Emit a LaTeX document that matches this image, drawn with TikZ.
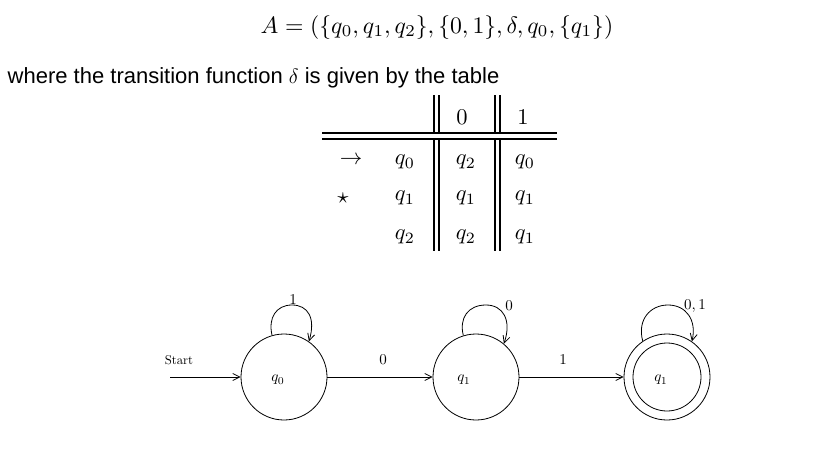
\documentclass[tikz,border=0pt]{standalone}
\usepackage{fontspec}
\newfontfamily\arialfont{Liberation Sans}
\usetikzlibrary{arrows.meta}
\begin{document}
\begin{tikzpicture}[x=1pt,y=-1pt,
  st/.style={circle,draw,line width=0.8pt,minimum size=86pt,inner sep=0pt},
  arr/.style={line width=0.8pt,-{Straight Barb[length=7pt,width=7pt]}},
  tline/.style={line width=1.7pt},
  cell/.style={inner sep=0pt,scale=2.25},
  lab/.style={inner sep=0pt,scale=1.5}]
\useasboundingbox (0,0) rectangle (817,453);
% formula
\node[inner sep=0pt,scale=2.37] (formula) at (437,27.5)
  {$A=(\{q_0,q_1,q_2\},\{0,1\},\delta,q_0,\{q_1\})$};
\node[inner sep=0pt,anchor=base west,font=\arialfont\fontsize{22}{26}\selectfont] (text) at (7.5,83)
  {where the transition function $\delta$ is given by the table};
% table
\node[cell] (h0) at (462,117) {$0$};
\node[cell] (h1) at (523,117) {$1$};
\node[cell] (ar) at (351,160) {$\rightarrow$};
\node[cell] (sr) at (343,198) {$\star$};
\node[cell] (a0) at (405,162) {$q_0$};
\node[cell] (a1) at (405,198) {$q_1$};
\node[cell] (a2) at (405,237) {$q_2$};
\node[cell] (b0) at (466,162) {$q_2$};
\node[cell] (b1) at (466,198) {$q_1$};
\node[cell] (b2) at (466,237) {$q_2$};
\node[cell] (c0) at (525,162) {$q_0$};
\node[cell] (c1) at (525,198) {$q_1$};
\node[cell] (c2) at (525,237) {$q_1$};
\draw[tline] (322,133) -- (557,133) (322,139) -- (557,139);
\foreach \x in {434,439,495,500}{
  \draw[tline] (\x,95) -- (\x,133) (\x,139) -- (\x,251);
}
% automaton
\node[st] (q0) at (284,377) {};
\node[st] (q1) at (476,377) {};
\node[st] (q2) at (667,377) {};
\draw[line width=0.8pt] (q2.center) circle (34);
\node[lab] (l0) at (278,380) {$q_0$};
\node[lab] (l1) at (464,380) {$q_1$};
\node[lab] (l2) at (661,380) {$q_1$};
\node[inner sep=0pt,scale=1.27] (start) at (179,360) {Start};
\coordinate (s0) at (170,377);
\draw[arr] (s0) -- (q0);
\draw[arr] (q0) -- (q1);
\draw[arr] (q1) -- (q2);
\node[lab] (e01) at (383,360) {$0$};
\node[lab] (e12) at (563,360) {$1$};
\draw[arr] (q0.106) .. controls (268,318) and (276,305) .. (292,305)
  .. controls (308,305) and (316,318) .. (q0.55);
\draw[arr] (q1.107) .. controls (459,318) and (468,305) .. (486,305)
  .. controls (503,305) and (512,320) .. (q1.50);
\draw[arr] (q2.124) .. controls (637,320) and (650,305) .. (668,305)
  .. controls (686,305) and (697,320) .. (q2.55);
\node[lab] (k0) at (293,299.5) {$1$};
\node[lab] (k1) at (509,306) {$0$};
\node[lab] (k2) at (695,306) {$0,1$};
\end{tikzpicture}
\end{document}
